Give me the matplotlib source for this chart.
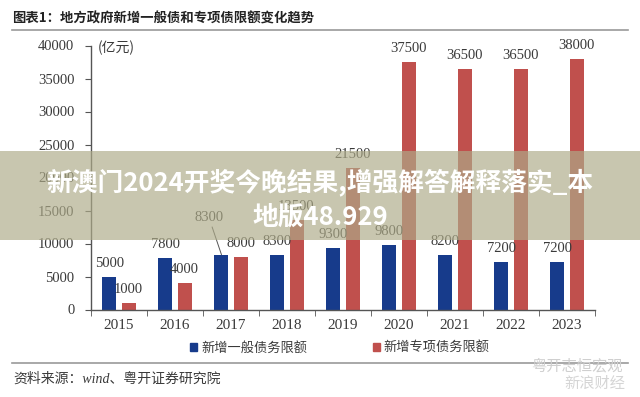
import numpy as np
import matplotlib
matplotlib.use('Agg')
import matplotlib.pyplot as plt
from matplotlib.patches import Rectangle
from matplotlib.lines import Line2D

plt.rcParams['font.family'] = ['Liberation Serif', 'Noto Sans CJK SC']

# data
years = ['2015', '2016', '2017', '2018', '2019', '2020', '2021', '2022', '2023']
general = [5000, 7800, 8300, 8300, 9300, 9800, 8200, 7200, 7200]
special = [1000, 4000, 8000, 13500, 21500, 37500, 36500, 36500, 38000]
yticks = [0, 5000, 10000, 15000, 20000, 25000, 30000, 35000, 40000]
series_names = ['新增一般债务限额', '新增专项债务限额']

BLUE = '#173b8b'
RED = '#c0504d'
TXT = '#3a3a3a'
CJK = ['Noto Sans CJK SC', 'DejaVu Sans']

fig = plt.figure(figsize=(6.4, 3.97), dpi=100)
ax = fig.add_axes([91 / 640, 1 - 309.5 / 397, 504 / 640, 264 / 397])

x = np.arange(len(years))
w = 0.25
ax.bar(x - 0.17, general, w, color=BLUE, zorder=2)
ax.bar(x + 0.17, special, w, color=RED, zorder=2)

ax.set_xlim(-0.5, len(years) - 0.5)
ax.set_ylim(0, 40000)
ax.set_yticks(yticks)
ax.set_yticklabels([str(v) for v in yticks], fontsize=10.5, color=TXT)
ax.set_xticks(x)
ax.set_xticklabels(years, fontsize=11, color=TXT)
ax.set_xticks(np.arange(-0.5, len(years), 1), minor=True)
ax.tick_params(axis='x', which='major', length=0, pad=7)
ax.tick_params(axis='x', which='minor', length=4, color='#555555')
ax.tick_params(axis='y', length=4, pad=8, color='#555555')
for s in ['top', 'right']:
    ax.spines[s].set_visible(False)
for s in ['left', 'bottom']:
    ax.spines[s].set_color('#555555')
    ax.spines[s].set_linewidth(1)

# value labels
for i in range(len(years)):
    if i == 2:
        ax.annotate(str(general[i]), (x[i] - 0.17, general[i]), xytext=(-9, 22),
                    textcoords='offset points', ha='center', va='bottom',
                    fontsize=10.5, color=TXT,
                    arrowprops=dict(arrowstyle='-', color='#555555', lw=0.7,
                                    shrinkA=0, shrinkB=0))
    else:
        ax.annotate(str(general[i]), (x[i] - 0.17, general[i]), xytext=(0, 5),
                    textcoords='offset points', ha='center', va='bottom',
                    fontsize=10.5, color=TXT)
    ax.annotate(str(special[i]), (x[i] + 0.17, special[i]), xytext=(0, 5),
                textcoords='offset points', ha='center', va='bottom',
                fontsize=10.5, color=TXT)

fig.text(98 / 640, 1 - 48 / 397, '(亿元)', fontsize=10, family=CJK, color=TXT, va='center')

# title and rules
fig.text(12 / 640, 1 - 19 / 397, '图表1：地方政府新增一般债和专项债限额变化趋势',
         fontsize=9.6, weight='bold', family=CJK, color='#222222', va='center')
fig.add_artist(Line2D([12 / 640, 628 / 640], [1 - 30 / 397] * 2, color='#9a9a9a', lw=1.2))
fig.add_artist(Line2D([12 / 640, 628 / 640], [1 - 363 / 397] * 2, color='#9a9a9a', lw=1.2))

# legend
handles = [Rectangle((0, 0), 1, 1, color=BLUE), Rectangle((0, 0), 1, 1, color=RED)]
leg = fig.legend(handles, series_names, loc='center', bbox_to_anchor=(340 / 640, 1 - 348 / 397),
                 ncol=2, frameon=False, handlelength=0.5, handleheight=0.5,
                 handletextpad=0.3, columnspacing=5, prop={'family': CJK, 'size': 9.5})
for t in leg.get_texts():
    t.set_color(TXT)

fig.text(13 / 640, 1 - 379 / 397, '资料来源：wind、粤开证券研究院', fontsize=10,
         style='italic', color=TXT, va='center')

# watermark
fig.text(577 / 640, 1 - 366 / 397, '粤开志恒宏观', fontsize=11, family=CJK,
         color='#cfcfcf', ha='center', va='center')
fig.text(595 / 640, 1 - 383 / 397, '新浪财经', fontsize=11, family=CJK,
         color='#d5d5d5', ha='center', va='center')

# overlay banner
fig.add_artist(Rectangle((0, 1 - 240 / 397), 1, 89 / 397, transform=fig.transFigure,
                         facecolor=(174 / 255, 171 / 255, 137 / 255), alpha=0.68,
                         edgecolor='none', zorder=10))
fig.text(0.5, 1 - 182 / 397, '新澳门2024开奖今晚结果,增强解答解释落实_本', fontsize=18.5,
         weight='bold', family=CJK, color='white', ha='center', va='center', zorder=11)
fig.text(0.5, 1 - 217 / 397, '地版48.929', fontsize=18.5,
         weight='bold', family=CJK, color='white', ha='center', va='center', zorder=11)

fig.savefig('out.png', dpi=100)
